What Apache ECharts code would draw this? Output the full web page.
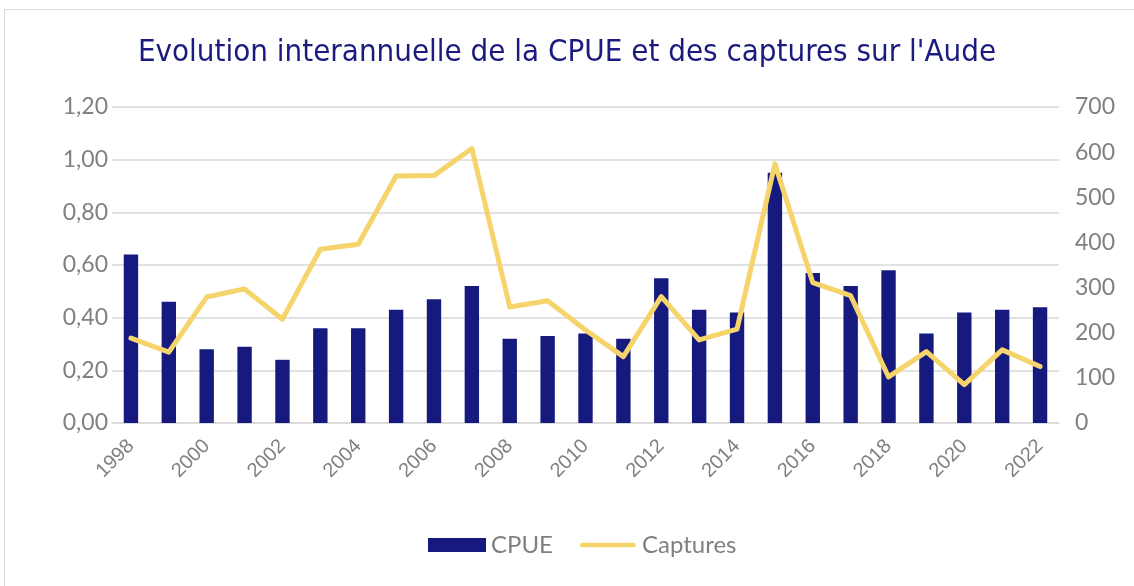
<!DOCTYPE html>
<html>
<head>
<meta charset="utf-8">
<script src="https://cdn.jsdelivr.net/npm/echarts@6/dist/echarts.min.js"></script>
<style>
  html, body { margin: 0; padding: 0; background: #fff; overflow: hidden; }
  .frame {
    position: absolute; left: 4px; top: 9px;
    width: 1140px; height: 590px;
    border: 1px solid #d9d9d9; box-sizing: border-box;
  }
  .chart { position: absolute; left: 0; top: 0; width: 1134px; height: 586px; }
</style>
</head>
<body>
<div class="frame"></div>
<div class="chart" id="chart"></div>
<script>
const years = ['1998', '1999', '2000', '2001', '2002', '2003', '2004', '2005', '2006', '2007',
  '2008', '2009', '2010', '2011', '2012', '2013', '2014', '2015', '2016', '2017',
  '2018', '2019', '2020', '2021', '2022']
const cpue = [0.64, 0.46, 0.28, 0.29, 0.24, 0.36, 0.36, 0.43, 0.47, 0.52,
  0.32, 0.33, 0.34, 0.32, 0.55, 0.43, 0.42, 0.95, 0.57, 0.52,
  0.58, 0.34, 0.42, 0.43, 0.44]
const captures = [188, 157, 279, 297, 230, 385, 396, 547, 548, 608,
  257, 271, 206, 147, 280, 184, 208, 574, 311, 282,
  102, 158, 85, 162, 125]

const navy = '#161a7e'
const yellow = '#f6d46c'
const grey = '#808080'

// thin line icon for the legend (invisible points keep the full item height)
const lineIcon = 'path://M0,0L0.1,0M2,5.5L61,5.5A2.5,2.5,0,0,1,61,10.5L2,10.5A2.5,2.5,0,0,1,2,5.5ZM0,16L0.1,16'

const myChart = echarts.init(document.getElementById('chart'))
myChart.setOption({
  animation: false,
  title: {
    text: "Evolution interannuelle de la CPUE et des captures sur l'Aude",
    left: 'center',
    top: 32,
    textStyle: {
      color: '#1b1b7f',
      fontFamily: 'DejaVu Sans Condensed',
      fontWeight: 'normal',
      fontSize: 31
    }
  },
  grid: { left: 112, right: 75, top: 107, bottom: 163 },
  legend: {
    bottom: 24,
    left: 423,
    itemWidth: 58,
    itemHeight: 14,
    itemGap: 27,
    textStyle: { color: grey, fontFamily: 'Lato', fontSize: 24 },
    data: [{ name: 'CPUE', icon: 'rect' }, { name: 'Captures', icon: lineIcon }]
  },
  xAxis: {
    type: 'category',
    data: years,
    axisLine: { lineStyle: { color: '#d9d9d9', width: 1.5 } },
    axisTick: { show: false },
    axisLabel: {
      interval: 1,
      rotate: 45,
      margin: 20,
      color: grey,
      fontFamily: 'Liberation Sans',
      fontSize: 20
    }
  },
  yAxis: [{
    type: 'value',
    min: 0,
    max: 1.2,
    interval: 0.2,
    axisLine: { show: false },
    axisTick: { show: false },
    splitLine: { lineStyle: { color: '#d9d9d9', width: 1.5 } },
    axisLabel: {
      margin: 4,
      color: grey,
      fontFamily: 'Lato',
      fontSize: 23,
      formatter: v => v.toFixed(2).replace('.', ',')
    }
  }, {
    type: 'value',
    min: 0,
    max: 700,
    interval: 100,
    axisLine: { show: false },
    axisTick: { show: false },
    splitLine: { show: false },
    axisLabel: {
      margin: 16,
      color: grey,
      fontFamily: 'Lato',
      fontSize: 23
    }
  }],
  series: [{
    name: 'CPUE',
    type: 'bar',
    barWidth: '38%',
    itemStyle: { color: navy },
    data: cpue
  }, {
    name: 'Captures',
    type: 'line',
    yAxisIndex: 1,
    symbol: 'none',
    lineStyle: { color: yellow, width: 5, cap: 'round', join: 'round' },
    itemStyle: { color: yellow },
    data: captures
  }]
})
</script>
</body>
</html>
